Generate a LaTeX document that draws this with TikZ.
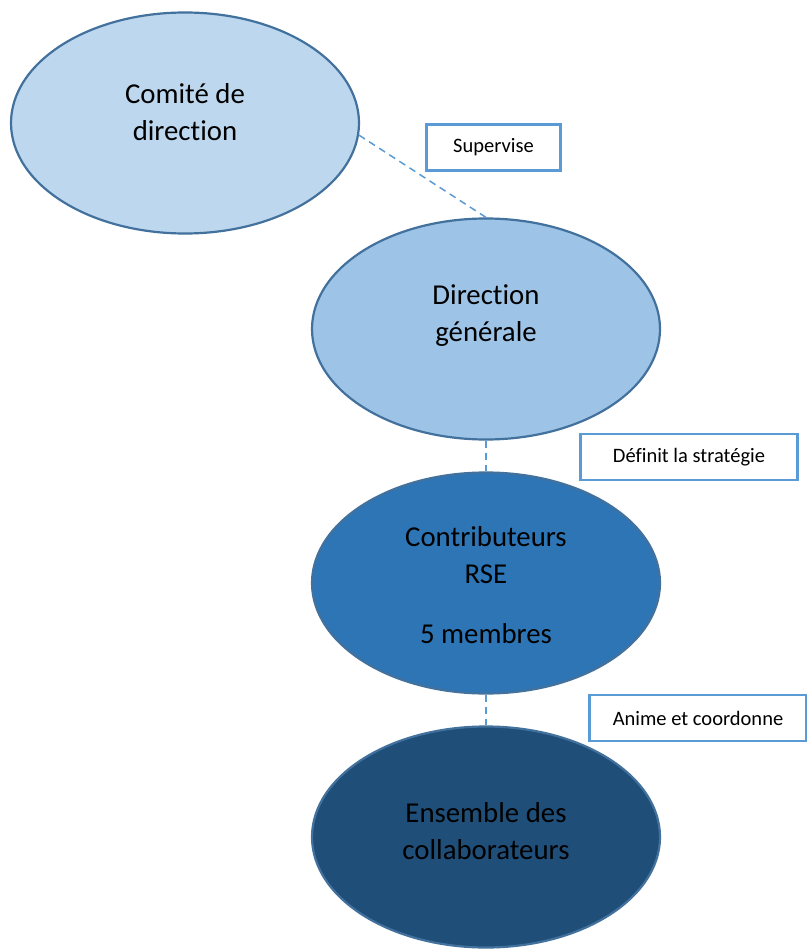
\documentclass[tikz,border=0pt]{standalone}
\usepackage{fontspec}
\setmainfont[Ligatures=NoCommon]{Carlito}
\usetikzlibrary{shapes.geometric}
\definecolor{f1}{HTML}{BDD7EE}
\definecolor{f2}{HTML}{9DC3E6}
\definecolor{f3}{HTML}{2E75B6}
\definecolor{f4}{HTML}{1F4E79}
\definecolor{edge}{HTML}{41719C}
\definecolor{lbl}{HTML}{5B9BD5}
\tikzset{
  oval/.style={ellipse, draw=edge, line width=2.2pt, minimum width=348pt, minimum height=221pt, inner sep=0pt},
  big/.style={font=\fontsize{28.8}{37}\selectfont, align=center, text=black, inner sep=0pt},
  tag/.style={draw=lbl, line width=2.2pt, fill=white, font=\fontsize{20.5}{22}\selectfont, align=center, inner sep=0pt, minimum height=46pt},
  link/.style={draw=lbl, line width=1.5pt, dash pattern=on 7pt off 5pt}
}
\begin{document}
\begin{tikzpicture}[x=1pt,y=-1pt]
\useasboundingbox (0,0) rectangle (806,949);
\fill[white] (0,0) rectangle (806,949);
\node[oval, fill=f1] (e1) at (185,123) {};
\node[oval, fill=f2] (e2) at (486,329) {};
\node[oval, fill=f3] (e3) at (486,583) {};
\node[oval, fill=f4] (e4) at (486,837) {};
\node[big] (t1) at (185,112) {Comité de\\direction};
\node[big] (t2) at (486,316) {Direction\\générale};
\node[big] (t3) at (486,555) {Contributeurs\\RSE};
\node[big] (t3b) at (486,634) {5 membres};
\node[big] (t4) at (486,831) {Ensemble des\\collaborateurs};
\draw[link] (e1.356.5) -- (e2.north);
\draw[link] (e2.south) -- (e3.north);
\draw[link] (e3.south) -- (e4.north);
\node[tag, minimum width=134pt] (s1) at (493.5,147.5) {Supervise};
\node[tag, minimum width=217pt] (s2) at (689,457) {Définit la stratégie};
\node[tag, minimum width=217pt] (s3) at (698,718) {Anime et coordonne};
\end{tikzpicture}
\end{document}
